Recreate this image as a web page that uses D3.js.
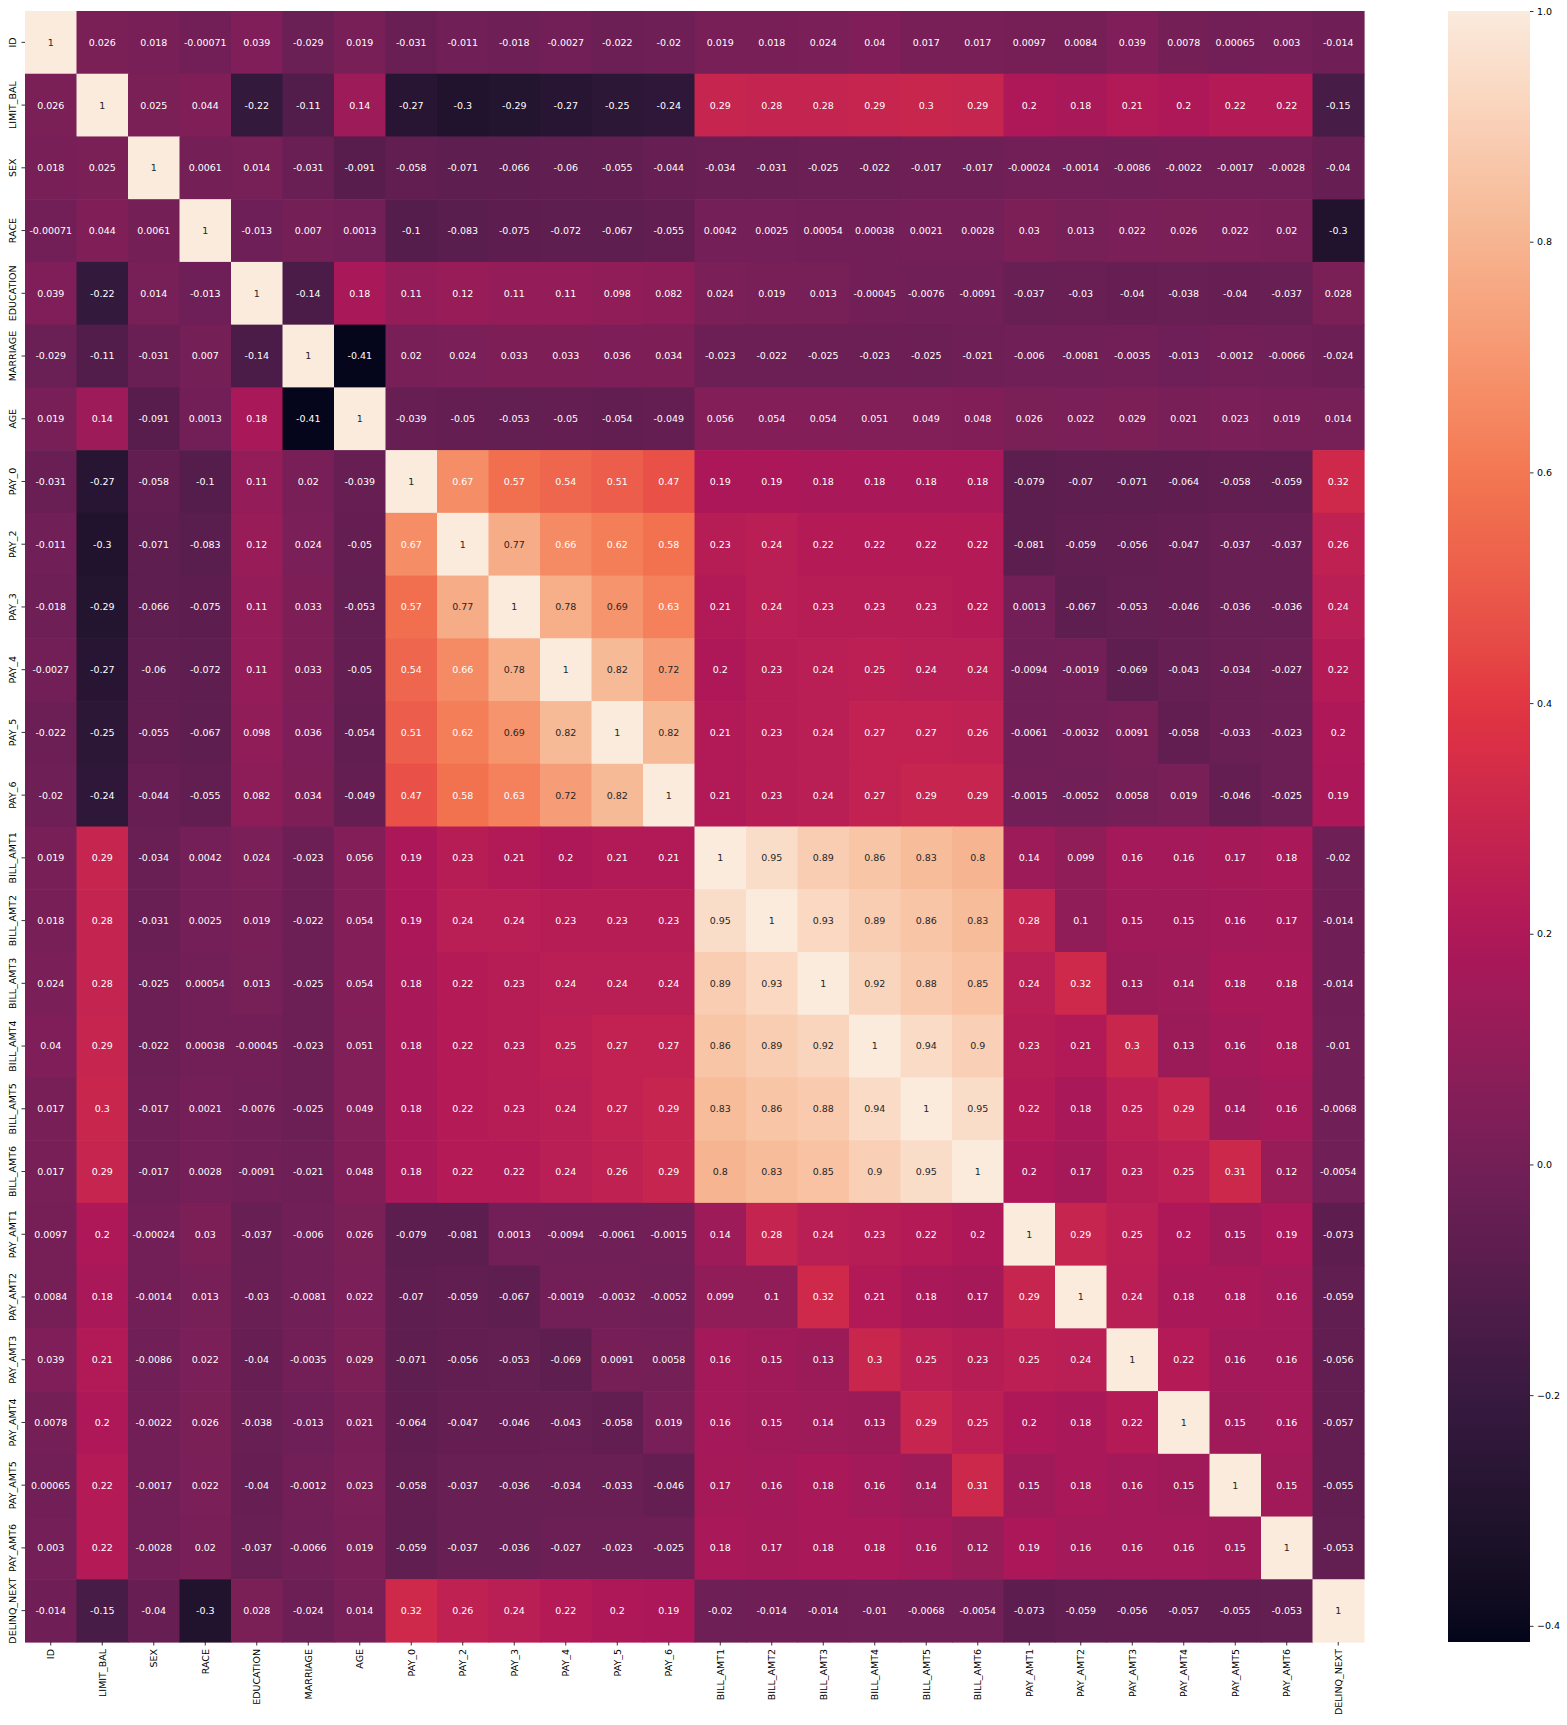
<!DOCTYPE html>
<html>
<head>
<meta charset="utf-8">
<script src="https://cdn.jsdelivr.net/npm/d3@7"></script>
<style>
  body { margin: 0; background: #fff; }
  svg text { font-family: "DejaVu Sans", sans-serif; }
</style>
</head>
<body>
<svg id="chart" width="1567" height="1725"></svg>
<script>
// variable names, same order on both axes
let labels = ["ID", "LIMIT_BAL", "SEX", "RACE", "EDUCATION", "MARRIAGE", "AGE",
  "PAY_0", "PAY_2", "PAY_3", "PAY_4", "PAY_5", "PAY_6",
  "BILL_AMT1", "BILL_AMT2", "BILL_AMT3", "BILL_AMT4", "BILL_AMT5", "BILL_AMT6",
  "PAY_AMT1", "PAY_AMT2", "PAY_AMT3", "PAY_AMT4", "PAY_AMT5", "PAY_AMT6", "DELINQ_NEXT"]

// correlation matrix, one row per variable
let corr = [
  [1, 0.026, 0.018, -0.00071, 0.039, -0.029, 0.019, -0.031, -0.011, -0.018, -0.0027, -0.022, -0.02, 0.019, 0.018, 0.024, 0.04, 0.017, 0.017, 0.0097, 0.0084, 0.039, 0.0078, 0.00065, 0.003, -0.014],
  [0.026, 1, 0.025, 0.044, -0.22, -0.11, 0.14, -0.27, -0.3, -0.29, -0.27, -0.25, -0.24, 0.29, 0.28, 0.28, 0.29, 0.3, 0.29, 0.2, 0.18, 0.21, 0.2, 0.22, 0.22, -0.15],
  [0.018, 0.025, 1, 0.0061, 0.014, -0.031, -0.091, -0.058, -0.071, -0.066, -0.06, -0.055, -0.044, -0.034, -0.031, -0.025, -0.022, -0.017, -0.017, -0.00024, -0.0014, -0.0086, -0.0022, -0.0017, -0.0028, -0.04],
  [-0.00071, 0.044, 0.0061, 1, -0.013, 0.007, 0.0013, -0.1, -0.083, -0.075, -0.072, -0.067, -0.055, 0.0042, 0.0025, 0.00054, 0.00038, 0.0021, 0.0028, 0.03, 0.013, 0.022, 0.026, 0.022, 0.02, -0.3],
  [0.039, -0.22, 0.014, -0.013, 1, -0.14, 0.18, 0.11, 0.12, 0.11, 0.11, 0.098, 0.082, 0.024, 0.019, 0.013, -0.00045, -0.0076, -0.0091, -0.037, -0.03, -0.04, -0.038, -0.04, -0.037, 0.028],
  [-0.029, -0.11, -0.031, 0.007, -0.14, 1, -0.41, 0.02, 0.024, 0.033, 0.033, 0.036, 0.034, -0.023, -0.022, -0.025, -0.023, -0.025, -0.021, -0.006, -0.0081, -0.0035, -0.013, -0.0012, -0.0066, -0.024],
  [0.019, 0.14, -0.091, 0.0013, 0.18, -0.41, 1, -0.039, -0.05, -0.053, -0.05, -0.054, -0.049, 0.056, 0.054, 0.054, 0.051, 0.049, 0.048, 0.026, 0.022, 0.029, 0.021, 0.023, 0.019, 0.014],
  [-0.031, -0.27, -0.058, -0.1, 0.11, 0.02, -0.039, 1, 0.67, 0.57, 0.54, 0.51, 0.47, 0.19, 0.19, 0.18, 0.18, 0.18, 0.18, -0.079, -0.07, -0.071, -0.064, -0.058, -0.059, 0.32],
  [-0.011, -0.3, -0.071, -0.083, 0.12, 0.024, -0.05, 0.67, 1, 0.77, 0.66, 0.62, 0.58, 0.23, 0.24, 0.22, 0.22, 0.22, 0.22, -0.081, -0.059, -0.056, -0.047, -0.037, -0.037, 0.26],
  [-0.018, -0.29, -0.066, -0.075, 0.11, 0.033, -0.053, 0.57, 0.77, 1, 0.78, 0.69, 0.63, 0.21, 0.24, 0.23, 0.23, 0.23, 0.22, 0.0013, -0.067, -0.053, -0.046, -0.036, -0.036, 0.24],
  [-0.0027, -0.27, -0.06, -0.072, 0.11, 0.033, -0.05, 0.54, 0.66, 0.78, 1, 0.82, 0.72, 0.2, 0.23, 0.24, 0.25, 0.24, 0.24, -0.0094, -0.0019, -0.069, -0.043, -0.034, -0.027, 0.22],
  [-0.022, -0.25, -0.055, -0.067, 0.098, 0.036, -0.054, 0.51, 0.62, 0.69, 0.82, 1, 0.82, 0.21, 0.23, 0.24, 0.27, 0.27, 0.26, -0.0061, -0.0032, 0.0091, -0.058, -0.033, -0.023, 0.2],
  [-0.02, -0.24, -0.044, -0.055, 0.082, 0.034, -0.049, 0.47, 0.58, 0.63, 0.72, 0.82, 1, 0.21, 0.23, 0.24, 0.27, 0.29, 0.29, -0.0015, -0.0052, 0.0058, 0.019, -0.046, -0.025, 0.19],
  [0.019, 0.29, -0.034, 0.0042, 0.024, -0.023, 0.056, 0.19, 0.23, 0.21, 0.2, 0.21, 0.21, 1, 0.95, 0.89, 0.86, 0.83, 0.8, 0.14, 0.099, 0.16, 0.16, 0.17, 0.18, -0.02],
  [0.018, 0.28, -0.031, 0.0025, 0.019, -0.022, 0.054, 0.19, 0.24, 0.24, 0.23, 0.23, 0.23, 0.95, 1, 0.93, 0.89, 0.86, 0.83, 0.28, 0.1, 0.15, 0.15, 0.16, 0.17, -0.014],
  [0.024, 0.28, -0.025, 0.00054, 0.013, -0.025, 0.054, 0.18, 0.22, 0.23, 0.24, 0.24, 0.24, 0.89, 0.93, 1, 0.92, 0.88, 0.85, 0.24, 0.32, 0.13, 0.14, 0.18, 0.18, -0.014],
  [0.04, 0.29, -0.022, 0.00038, -0.00045, -0.023, 0.051, 0.18, 0.22, 0.23, 0.25, 0.27, 0.27, 0.86, 0.89, 0.92, 1, 0.94, 0.9, 0.23, 0.21, 0.3, 0.13, 0.16, 0.18, -0.01],
  [0.017, 0.3, -0.017, 0.0021, -0.0076, -0.025, 0.049, 0.18, 0.22, 0.23, 0.24, 0.27, 0.29, 0.83, 0.86, 0.88, 0.94, 1, 0.95, 0.22, 0.18, 0.25, 0.29, 0.14, 0.16, -0.0068],
  [0.017, 0.29, -0.017, 0.0028, -0.0091, -0.021, 0.048, 0.18, 0.22, 0.22, 0.24, 0.26, 0.29, 0.8, 0.83, 0.85, 0.9, 0.95, 1, 0.2, 0.17, 0.23, 0.25, 0.31, 0.12, -0.0054],
  [0.0097, 0.2, -0.00024, 0.03, -0.037, -0.006, 0.026, -0.079, -0.081, 0.0013, -0.0094, -0.0061, -0.0015, 0.14, 0.28, 0.24, 0.23, 0.22, 0.2, 1, 0.29, 0.25, 0.2, 0.15, 0.19, -0.073],
  [0.0084, 0.18, -0.0014, 0.013, -0.03, -0.0081, 0.022, -0.07, -0.059, -0.067, -0.0019, -0.0032, -0.0052, 0.099, 0.1, 0.32, 0.21, 0.18, 0.17, 0.29, 1, 0.24, 0.18, 0.18, 0.16, -0.059],
  [0.039, 0.21, -0.0086, 0.022, -0.04, -0.0035, 0.029, -0.071, -0.056, -0.053, -0.069, 0.0091, 0.0058, 0.16, 0.15, 0.13, 0.3, 0.25, 0.23, 0.25, 0.24, 1, 0.22, 0.16, 0.16, -0.056],
  [0.0078, 0.2, -0.0022, 0.026, -0.038, -0.013, 0.021, -0.064, -0.047, -0.046, -0.043, -0.058, 0.019, 0.16, 0.15, 0.14, 0.13, 0.29, 0.25, 0.2, 0.18, 0.22, 1, 0.15, 0.16, -0.057],
  [0.00065, 0.22, -0.0017, 0.022, -0.04, -0.0012, 0.023, -0.058, -0.037, -0.036, -0.034, -0.033, -0.046, 0.17, 0.16, 0.18, 0.16, 0.14, 0.31, 0.15, 0.18, 0.16, 0.15, 1, 0.15, -0.055],
  [0.003, 0.22, -0.0028, 0.02, -0.037, -0.0066, 0.019, -0.059, -0.037, -0.036, -0.027, -0.023, -0.025, 0.18, 0.17, 0.18, 0.18, 0.16, 0.12, 0.19, 0.16, 0.16, 0.16, 0.15, 1, -0.053],
  [-0.014, -0.15, -0.04, -0.3, 0.028, -0.024, 0.014, 0.32, 0.26, 0.24, 0.22, 0.2, 0.19, -0.02, -0.014, -0.014, -0.01, -0.0068, -0.0054, -0.073, -0.059, -0.056, -0.057, -0.055, -0.053, 1]
]

// colour bar range and ticks
let colorDomain = [-0.414, 1]
let colorbarTicks = [1.0, 0.8, 0.6, 0.4, 0.2, 0.0, -0.2, -0.4]

// seaborn "rocket" palette samples
let rocketStops = [0, 1 / 7, 2 / 7, 3 / 7, 4 / 7, 5 / 7, 6 / 7, 1]
let rocketColors = ["#03051a", "#35193e", "#701f57", "#ad1759", "#e13342", "#f37651", "#f6b48f", "#faebdd"]

let plot = { left: 25, right: 1364, top: 11, bottom: 1642 }
let cbar = { left: 1448, right: 1530 }

let svg = d3.select("#chart")

let xScale = d3.scaleBand().domain(labels).range([plot.left, plot.right])
let yScale = d3.scaleBand().domain(labels).range([plot.top, plot.bottom])

let norm = d3.scaleLinear().domain(colorDomain).range([0, 1]).clamp(true)
let rocket = d3.scaleLinear().domain(rocketStops).range(rocketColors).interpolate(d3.interpolateLab)
let color = v => rocket(norm(v))

// flatten rows into cells
let cells = []
corr.forEach((row, i) => row.forEach((v, j) => cells.push({ row: labels[i], col: labels[j], v: v })))

// heatmap cells
svg.append("g")
  .selectAll("rect")
  .data(cells)
  .join("rect")
  .attr("x", d => xScale(d.col))
  .attr("y", d => yScale(d.row))
  .attr("width", xScale.bandwidth() + 0.6)
  .attr("height", yScale.bandwidth() + 0.6)
  .attr("fill", d => color(d.v))

// annotations
svg.append("g")
  .selectAll("text")
  .data(cells)
  .join("text")
  .attr("x", d => xScale(d.col) + xScale.bandwidth() / 2)
  .attr("y", d => yScale(d.row) + yScale.bandwidth() / 2)
  .attr("text-anchor", "middle")
  .attr("dy", "0.36em")
  .style("font-size", "9.5px")
  .style("fill", d => d.v > 0.675 ? "#262626" : "#ffffff")
  .text(d => String(d.v))

// y axis
let yAxis = svg.append("g")
  .attr("transform", `translate(${plot.left},0)`)
  .call(d3.axisLeft(yScale).tickSize(3.5).tickPadding(3.5))
yAxis.select(".domain").remove()
yAxis.selectAll("line").attr("stroke", "#000").attr("stroke-width", 0.8)
yAxis.selectAll("text")
  .attr("x", 0)
  .attr("dy", null)
  .attr("text-anchor", "middle")
  .attr("transform", "translate(-9,0) rotate(-90)")
  .attr("fill", "#000")
  .style("font-size", "9.5px")
  .style("font-family", "DejaVu Sans")

// x axis
let xAxis = svg.append("g")
  .attr("transform", `translate(0,${plot.bottom})`)
  .call(d3.axisBottom(xScale).tickSize(3.5).tickPadding(3.5))
xAxis.select(".domain").remove()
xAxis.selectAll("line").attr("stroke", "#000").attr("stroke-width", 0.8)
xAxis.selectAll("text")
  .attr("y", 0)
  .attr("dy", "0.35em")
  .attr("text-anchor", "end")
  .attr("transform", "translate(0,7) rotate(-90)")
  .attr("fill", "#000")
  .style("font-size", "9.5px")
  .style("font-family", "DejaVu Sans")

// colour bar
let cbScale = d3.scaleLinear().domain(colorDomain).range([plot.bottom, plot.top])

let grad = svg.append("defs").append("linearGradient")
  .attr("id", "cbGrad")
  .attr("x1", 0).attr("y1", 1).attr("x2", 0).attr("y2", 0)
grad.selectAll("stop")
  .data(d3.range(0, 1.0001, 0.02))
  .join("stop")
  .attr("offset", d => d)
  .attr("stop-color", d => rocket(d))

svg.append("rect")
  .attr("x", cbar.left)
  .attr("y", plot.top)
  .attr("width", cbar.right - cbar.left)
  .attr("height", plot.bottom - plot.top)
  .attr("fill", "url(#cbGrad)")

let cbAxis = svg.append("g")
  .attr("transform", `translate(${cbar.right},0)`)
  .call(d3.axisRight(cbScale)
    .tickValues(colorbarTicks)
    .tickSize(3.5)
    .tickPadding(3.5)
    .tickFormat(d => (d < 0 ? "\u2212" : "") + Math.abs(d).toFixed(1)))
cbAxis.select(".domain").remove()
cbAxis.selectAll("line").attr("stroke", "#000").attr("stroke-width", 0.8)
cbAxis.selectAll("text")
  .attr("fill", "#000")
  .style("font-size", "9.5px")
  .style("font-family", "DejaVu Sans")
</script>
</body>
</html>
